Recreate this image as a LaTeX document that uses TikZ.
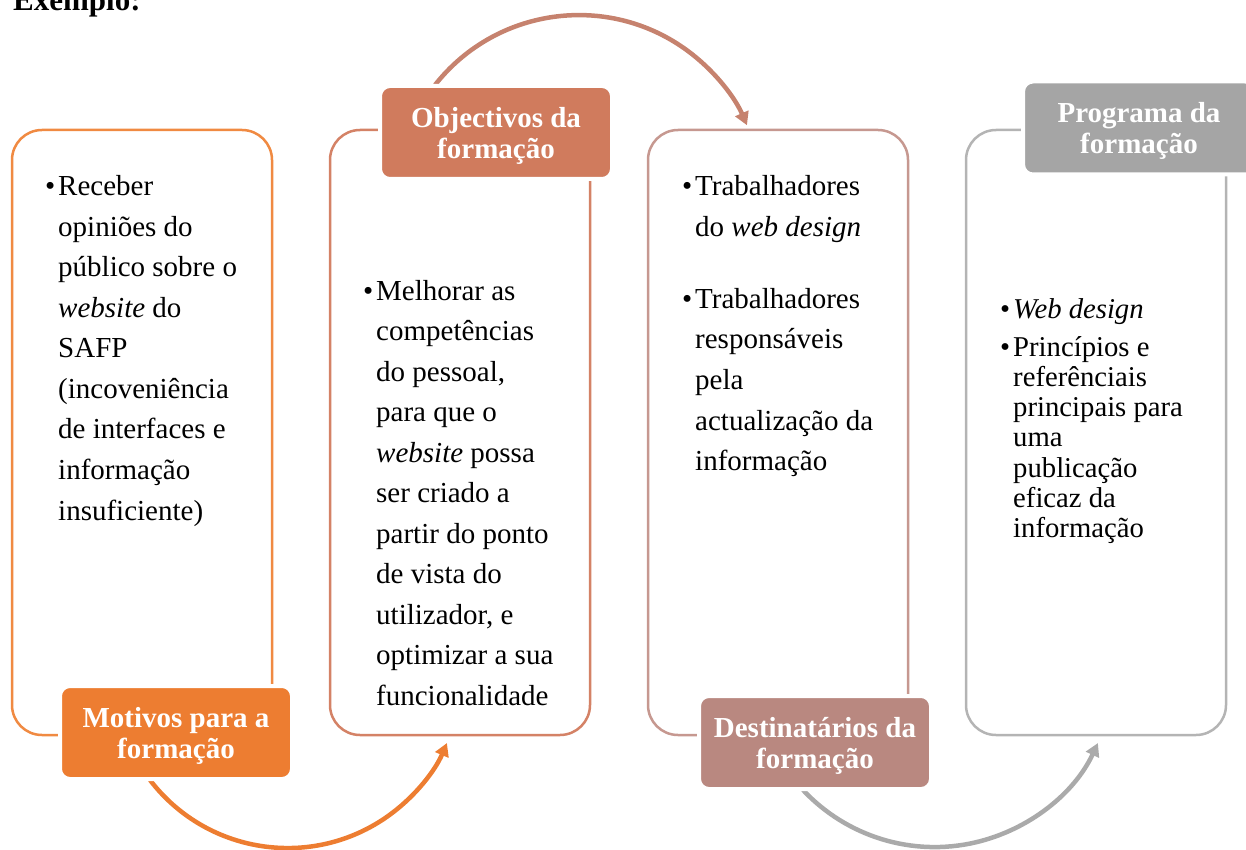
\documentclass[tikz,border=0pt]{standalone}
\usepackage{fontspec}
\setmainfont{Liberation Serif}
\usetikzlibrary{arrows.meta}
\definecolor{cA}{RGB}{237,125,49}
\definecolor{cB}{RGB}{208,123,93}
\definecolor{cC}{RGB}{185,136,128}
\definecolor{cD}{RGB}{165,165,165}
\definecolor{bA}{RGB}{240,138,66}
\definecolor{bB}{RGB}{212,130,102}
\definecolor{bC}{RGB}{198,152,144}
\definecolor{bD}{RGB}{180,180,180}
\definecolor{aB}{RGB}{198,130,110}
\definecolor{aC}{RGB}{170,170,170}
\newcommand{\bulpt}{\leavevmode\llap{•\hspace{3pt}}}
\begin{document}
\begin{tikzpicture}[x=1pt,y=-1pt,
  outerbox/.style={draw, line width=2.5pt, rounded corners=30pt, minimum width=260pt, minimum height=605pt, inner sep=0pt, fill=white},
  labelbox/.style={draw=white, line width=4pt, rounded corners=10pt, minimum width=232pt, minimum height=93pt, inner sep=0pt},
  labeltext/.style={text=white, font=\bfseries\fontsize{29}{31}\selectfont, align=center, inner sep=0pt},
  flowarc/.style={line width=4.5pt, -{Triangle[length=13pt,width=14pt]}},
  bodytext/.style={anchor=base west, inner sep=0pt, font=\fontsize{29}{40.5}\selectfont},
  smalltext/.style={anchor=base west, inner sep=0pt, font=\fontsize{28.7}{30.3}\selectfont}
]
\useasboundingbox (0,0) rectangle (1246,850);
\node[anchor=base west, inner sep=0pt, font=\bfseries\fontsize{31}{34}\selectfont] (title) at (13,11) {Exemplo:};

% outer boxes
\node[outerbox, draw=bA] (b1) at (142,432.5) {};
\node[outerbox, draw=bB] (b2) at (460,432.5) {};
\node[outerbox, draw=bC] (b3) at (778,432.5) {};
\node[outerbox, draw=bD] (b4) at (1096,432.5) {};

% arcs
\coordinate (s1) at (150,780);
\coordinate (s2) at (435,85);
\coordinate (s3) at (803,790);
\draw[flowarc, draw=cA, color=cA] (s1) arc[start angle=217.4, end angle=336.8, radius=173.3pt];
\draw[flowarc, draw=aB, color=aB] (s2) arc[start angle=141.8, end angle=23.5, radius=183.2pt];
\draw[flowarc, draw=aC, color=aC] (s3) arc[start angle=223.1, end angle=335, radius=180.2pt];

% labels
\node[labelbox, fill=cA] (l1) at (176,732.5) {};
\node[labelbox, fill=cB] (l2) at (496,132.5) {};
\node[labelbox, fill=cC] (l3) at (815,742.5) {};
\node[labelbox, fill=cD] (l4) at (1139,128) {};
\node[labeltext] (l1t) at (176,735.5) {Motivos para a\\formação};
\node[labeltext] (l2t) at (496,135.5) {Objectivos da\\formação};
\node[labeltext] (l3t) at (815,745.5) {Destinatários da\\formação};
\node[labeltext] (l4t) at (1139,131) {Programa da\\formação};

% texts
\node[bodytext] (t1) at (58,196) {\parbox[t]{240pt}{\raggedright
\bulpt Receber\\
opiniões do\\
público sobre o\\
\textit{website} do\\
SAFP\\
(incoveniência\\
de interfaces e\\
informação\\
insuficiente)}};

\node[bodytext] (t2) at (376,300) {\parbox[t]{240pt}{\raggedright
\bulpt Melhorar as\\
competências\\
do pessoal,\\
para que o\\
\textit{website} possa\\
ser criado a\\
partir do ponto\\
de vista do\\
utilizador, e\\
optimizar a sua\\
funcionalidade}};

\node[bodytext] (t3) at (695,196) {\parbox[t]{240pt}{\raggedright
\bulpt Trabalhadores\\
do \textit{web design}\\[31.5pt]
\bulpt Trabalhadores\\
responsáveis\\
pela\\
actualização da\\
informação}};

\node[smalltext] (t4) at (1013,318) {\parbox[t]{240pt}{\raggedright
\bulpt\textit{Web design}\\[7.7pt]
\bulpt Princípios e\\
referênciais\\
principais para\\
uma\\
publicação\\
eficaz da\\
informação}};
\end{tikzpicture}
\end{document}
